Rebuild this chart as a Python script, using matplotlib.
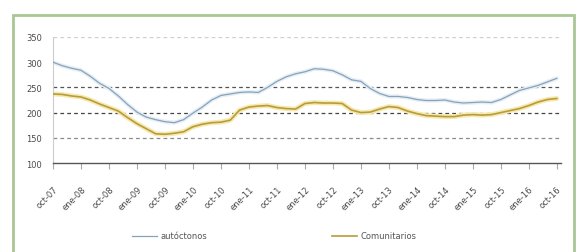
import matplotlib
matplotlib.use("Agg")
import matplotlib.pyplot as plt
from matplotlib.patches import Rectangle

tick_labels = ["oct-07", "ene-08", "oct-08", "ene-09", "oct-09", "ene-10", "oct-10",
               "ene-11", "oct-11", "ene-12", "oct-12", "ene-13", "oct-13", "ene-14",
               "oct-14", "ene-15", "oct-15", "ene-16", "oct-16"]

# bimonthly readings (months 0, 2, ..., 108)
months = list(range(0, 109, 2))
autoctonos = [300, 293, 288, 284, 272, 258, 248, 233, 216, 201, 191, 186, 182, 180,
              186, 199, 211, 225, 234, 237, 240, 241, 240, 250, 262, 271, 277, 281,
              287, 286, 283, 275, 265, 262, 248, 238, 232, 232, 230, 226, 224, 224,
              225, 221, 219, 220, 221, 220, 226, 235, 244, 249, 254, 261, 268]
comunitarios = [237, 236, 233, 231, 225, 217, 210, 203, 190, 178, 168, 158, 157, 159,
                162, 172, 177, 180, 181, 185, 205, 211, 213, 214, 210, 208, 207, 218,
                220, 219, 219, 218, 205, 200, 201, 207, 212, 210, 203, 198, 194, 193,
                192, 192, 195, 196, 195, 196, 200, 204, 208, 214, 221, 226, 228]
series_names = ["autóctonos", "Comunitarios"]

W, H = 578, 253
fig = plt.figure(figsize=(W / 100, H / 100), dpi=100)
fig.patch.set_facecolor("white")
fig.patches.append(Rectangle((13 / W, -0.05), 561 / W, (H - 16) / H + 0.05,
                             transform=fig.transFigure, fill=False,
                             edgecolor="#aac694", linewidth=2.0))

ax = fig.add_axes([53 / W, 1 - 164 / H, (561 - 53) / W, (164 - 38) / H])
ax.set_facecolor("white")

ax.set_ylim(100, 350)
ax.set_xlim(0, 108.9)

for yv, col in [(350, "#cfcfcf"), (250, "#555555"), (200, "#444444"), (150, "#8a8a8a")]:
    ax.axhline(yv, color=col, linestyle=(0, (3, 2.5)), linewidth=0.9, zorder=1)

ax.plot(months, autoctonos, color="#e6eef5", linewidth=3.0, zorder=2, solid_capstyle="round")
l1, = ax.plot(months, autoctonos, color="#86a3ba", linewidth=0.9, zorder=3)
ax.plot(months, comunitarios, color="#f6e9b0", linewidth=3.5, zorder=2, solid_capstyle="round")
l2, = ax.plot(months, comunitarios, color="#b99c3a", linewidth=1.2, zorder=3)

for s in ["top", "right"]:
    ax.spines[s].set_visible(False)
ax.spines["left"].set_color("#cccccc")
ax.spines["left"].set_linewidth(0.8)
ax.spines["bottom"].set_color("#555555")
ax.spines["bottom"].set_linewidth(1.0)

ax.set_yticks([100, 150, 200, 250, 300, 350])
ax.tick_params(axis="y", length=0, labelsize=6, labelcolor="#4a4a4a", pad=8)
ax.set_xticks(list(range(0, 109, 6)))
ax.set_xticklabels(tick_labels, rotation=45, ha="right", rotation_mode="anchor")
ax.tick_params(axis="x", length=4, width=0.8, color="#aaaaaa", labelsize=6,
               labelcolor="#4a4a4a", pad=11)

fig.legend([l1, l2], series_names, loc="center", bbox_to_anchor=(0.475, 1 - 237 / H),
           ncol=2, frameon=False, fontsize=6, columnspacing=15, handlelength=3,
           handletextpad=0.4, labelcolor="#555555")

fig.savefig("out.png", dpi=100, facecolor="white")
